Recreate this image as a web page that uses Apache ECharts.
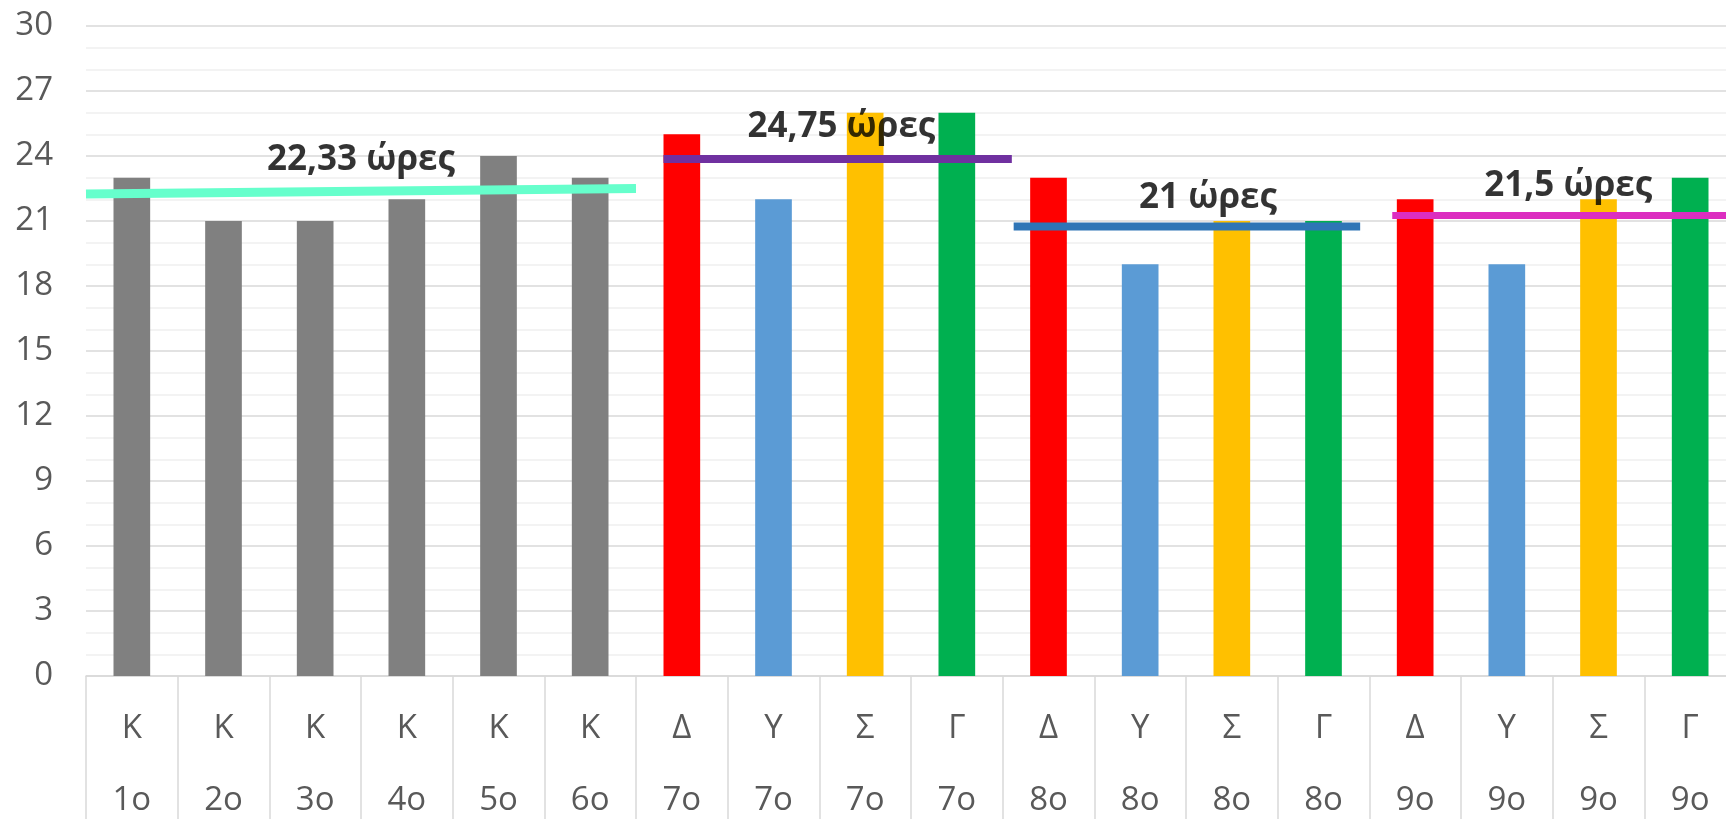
<!DOCTYPE html>
<html>
<head>
<meta charset="utf-8">
<script src="https://cdn.jsdelivr.net/npm/echarts@6/dist/echarts.min.js"></script>
<style>
html,body{margin:0;padding:0;background:#fff;}
#chart{width:1726px;height:819px;}
</style>
</head>
<body>
<div id="chart"></div>
<script>
// ---- data ----
const letters = ['Κ','Κ','Κ','Κ','Κ','Κ','Δ','Υ','Σ','Γ','Δ','Υ','Σ','Γ','Δ','Υ','Σ','Γ'];
const grades  = ['1ο','2ο','3ο','4ο','5ο','6ο','7ο','7ο','7ο','7ο','8ο','8ο','8ο','8ο','9ο','9ο','9ο','9ο'];
const hours   = [23,21,21,22,24,23,25,22,26,26,23,19,21,21,22,19,22,23];
const yTicks  = [0,3,6,9,12,15,18,21,24,27,30];

// average lines (x in category units, y in hours)
const avgXStart = [0, 6.3, 10.12, 14.25];
const avgXEnd   = [6, 10.1, 13.9, 18.2];
const avgYStart = [22.25, 23.86, 20.75, 21.25];
const avgYEnd   = [22.5, 23.86, 20.75, 21.25];
const avgText   = ['22,33 ώρες','24,75 ώρες','21 ώρες','21,5 ώρες'];
const avgTextX  = [3.0, 8.24, 12.24, 16.17];
const avgTextY  = [23.8, 25.35, 22.05, 22.6];

// ---- styles ----
const letterColor = {'Κ':'#808080','Δ':'#FF0000','Υ':'#5B9BD5','Σ':'#FFC000','Γ':'#00B050'};
const avgColors = ['#66FFCC','#7030A0','#2E75B6','#DC2EC0'];
const avgWidths = [9, 8, 8, 7];

const chart = echarts.init(document.getElementById('chart'));

const series = [{
  type: 'bar',
  xAxisIndex: 0,
  barWidth: '40%',
  data: hours.map((v, i) => ({value: v, itemStyle: {color: letterColor[letters[i]]}})),
  z: 2
}];
avgText.forEach((t, i) => {
  series.push({
    type: 'line',
    xAxisIndex: 1,
    symbol: 'none',
    lineStyle: {color: avgColors[i], width: avgWidths[i], cap: 'butt'},
    data: [[avgXStart[i], avgYStart[i]], [avgXEnd[i], avgYEnd[i]]],
    z: 5,
    silent: true
  });
});
series.push({
  type: 'scatter',
  xAxisIndex: 1,
  symbolSize: 0,
  data: avgText.map((t, i) => ({value: [avgTextX[i], avgTextY[i]], name: t})),
  label: {
    show: true,
    position: 'inside',
    formatter: p => p.name,
    color: '#000',
    fontFamily: 'Open Sans',
    fontWeight: 'bold',
    fontSize: 35
  },
  z: 6
});

chart.setOption({
  animation: false,
  grid: {left: 86, right: -10, top: 26, bottom: 143, outerBoundsMode: 'none'},
  xAxis: [{
    type: 'category',
    data: letters.map((l, i) => l + '\n' + grades[i]),
    axisLine: {lineStyle: {color: '#D9D9D9', width: 1.5}},
    axisTick: {show: true, length: 160, lineStyle: {color: '#D9D9D9', width: 1.5}},
    axisLabel: {
      color: '#595959', fontFamily: 'Open Sans', fontSize: 33,
      lineHeight: 72, margin: 17, interval: 0
    }
  }, {
    type: 'value', min: 0, max: 18, show: false
  }],
  yAxis: {
    type: 'value', min: 0, max: 30, interval: 3,
    axisLine: {show: false},
    axisTick: {show: false},
    axisLabel: {
      color: '#595959', fontFamily: 'Open Sans', fontSize: 33, margin: 33,
      formatter: v => (yTicks.indexOf(v) >= 0 ? String(v) : '')
    },
    splitLine: {lineStyle: {color: '#D9D9D9', width: 1.5}},
    minorTick: {show: false, splitNumber: 3},
    minorSplitLine: {show: true, lineStyle: {color: '#EFEFEF', width: 1.5}}
  },
  series: series
});
</script>
</body>
</html>
